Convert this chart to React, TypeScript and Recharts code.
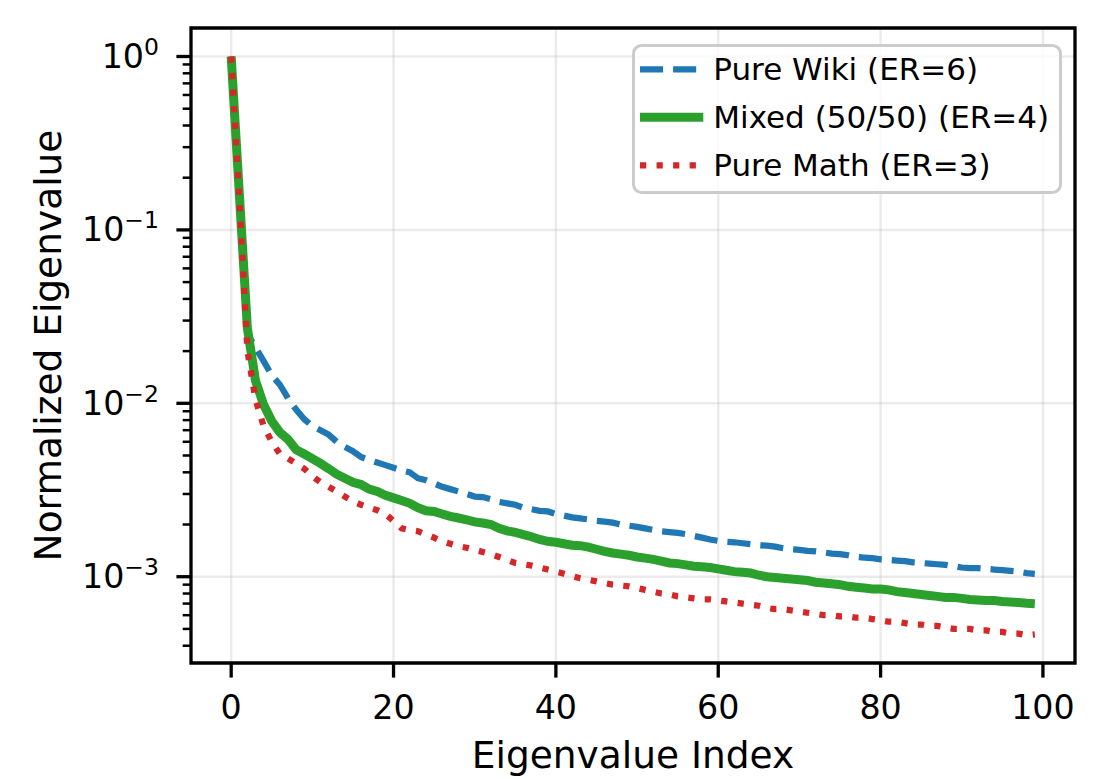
import React from 'react';
import { LineChart, Line, XAxis, YAxis, CartesianGrid, ReferenceArea, Legend } from 'recharts';

const pureWiki = [
  1.0, 0.16, 0.025, 0.021, 0.0175, 0.0145, 0.0128, 0.0107, 0.0092, 0.0081,
  0.0074, 0.007, 0.0066, 0.006, 0.0056, 0.0053, 0.0049, 0.0047, 0.00455, 0.0044,
  0.00425, 0.0041, 0.004, 0.0037, 0.0036, 0.00345, 0.0033, 0.0032, 0.0031, 0.003,
  0.0029, 0.00288, 0.0028, 0.0027, 0.00265, 0.0026, 0.0025, 0.00245, 0.0024, 0.00238,
  0.0023, 0.00225, 0.0022, 0.00217, 0.00214, 0.0021, 0.00208, 0.00205, 0.002, 0.00197,
  0.00194, 0.0019, 0.00186, 0.00183, 0.00181, 0.00179, 0.00176, 0.00172, 0.00168, 0.00164,
  0.00161, 0.00159, 0.00158, 0.00156, 0.00154, 0.00152, 0.00151, 0.00149, 0.00146, 0.00144,
  0.00143, 0.00141, 0.0014, 0.00138, 0.00136, 0.00135, 0.00133, 0.0013, 0.00129, 0.00128,
  0.00126, 0.00125, 0.00124, 0.00123, 0.00121, 0.0012, 0.00119, 0.00118, 0.00117, 0.00115,
  0.00113, 0.00112, 0.00112, 0.00111, 0.0011, 0.00109, 0.00108, 0.00107, 0.00105, 0.00104,
];

const mixed = [
  1.0, 0.163, 0.027, 0.0135, 0.0098, 0.0079, 0.0068, 0.0062, 0.0054, 0.0051,
  0.0048, 0.0045, 0.0042, 0.0039, 0.0037, 0.0035, 0.0034, 0.0032, 0.0031, 0.00295,
  0.00285, 0.00275, 0.00265, 0.0025, 0.0024, 0.00238, 0.0023, 0.00223, 0.00218, 0.00213,
  0.00207, 0.00204, 0.002, 0.0019, 0.00184, 0.0018, 0.00175, 0.0017, 0.00164, 0.0016,
  0.00158, 0.00155, 0.00152, 0.00151, 0.00148, 0.00144, 0.0014, 0.00137, 0.00135, 0.00133,
  0.0013, 0.00128, 0.00126, 0.00123, 0.0012, 0.00119, 0.00117, 0.00115, 0.00114, 0.00113,
  0.00111, 0.00109, 0.00107, 0.00106, 0.00105, 0.00102, 0.001, 0.00099, 0.00098, 0.00097,
  0.00096, 0.00095, 0.00093, 0.00092, 0.00091, 0.0009, 0.00088, 0.00087, 0.00086, 0.00085,
  0.00085, 0.00084, 0.00082, 0.00081, 0.0008, 0.00079, 0.00078, 0.00077, 0.00076, 0.00076,
  0.00075, 0.00074, 0.000735, 0.00073, 0.00073, 0.00072, 0.000715, 0.00071, 0.000703, 0.000698,
];

const pureMath = [
  1.0, 0.15, 0.02, 0.0105, 0.0074, 0.006, 0.0051, 0.0048, 0.0045, 0.0042,
  0.0038, 0.0035, 0.0033, 0.0031, 0.0029, 0.00272, 0.0026, 0.0025, 0.00242, 0.0023,
  0.0021, 0.0019, 0.00186, 0.00183, 0.00175, 0.00168, 0.0016, 0.00155, 0.0015, 0.00147,
  0.00143, 0.00139, 0.00135, 0.0013, 0.00125, 0.0012, 0.00118, 0.00116, 0.00113, 0.0011,
  0.00107, 0.00104, 0.00101, 0.00098, 0.00096, 0.00094, 0.00092, 0.0009, 0.00089, 0.00088,
  0.00086, 0.00084, 0.00082, 0.0008, 0.00079, 0.00077, 0.00076, 0.00075, 0.00074, 0.00074,
  0.00073, 0.00072, 0.00071, 0.0007, 0.00069, 0.00068, 0.00066, 0.00065, 0.00065, 0.00064,
  0.00063, 0.00062, 0.00061, 0.0006, 0.0006, 0.00059, 0.00059, 0.00058, 0.00058, 0.00057,
  0.00056, 0.00055, 0.00055, 0.00054, 0.00053, 0.00053, 0.00052, 0.00052, 0.00051, 0.0005,
  0.0005, 0.0005, 0.00049, 0.00049, 0.00048, 0.00048, 0.00047, 0.00047, 0.00046, 0.000465,
];

const xTicks = [0, 20, 40, 60, 80, 100];
const yMajorTicks = [1, 0.1, 0.01, 0.001];
const yMajorLabels = ['0', '\u22121', '\u22122', '\u22123'];
const yMinorTicks = [
  0.9, 0.8, 0.7, 0.6, 0.5, 0.4, 0.3, 0.2,
  0.09, 0.08, 0.07, 0.06, 0.05, 0.04, 0.03, 0.02,
  0.009, 0.008, 0.007, 0.006, 0.005, 0.004, 0.003, 0.002,
  0.0009, 0.0008, 0.0007, 0.0006, 0.0005, 0.0004,
];
const xDomain = [-4.95, 103.95];
const yDomain = [3.18e-4, 1.46];

const seriesNames = ['Pure Wiki (ER=6)', 'Mixed (50/50) (ER=4)', 'Pure Math (ER=3)'];
const seriesKeys = ['wiki', 'mixed', 'math'];
const seriesColors = ['#1f77b4', '#2ca02c', '#d62728'];
const seriesWidths = [6.25, 9, 6.25];
const seriesDashes = ['23.1 10', undefined, '6.25 10.3'];

const rows = pureWiki.map((v, i) => ({ idx: i, wiki: v, mixed: mixed[i], math: pureMath[i] }));

const FONT = 'DejaVu Sans, sans-serif';

const YTick = (props: any) => {
  const { x, y, payload } = props;
  const v = payload.value;
  const mi = yMajorTicks.findIndex((t) => Math.abs(t - v) / t < 1e-6);
  if (mi < 0) {
    return <line x1={x - 8.3} x2={x} y1={y} y2={y} stroke="#000" strokeWidth={2.5} />;
  }
  return (
    <g>
      <line x1={x - 14.6} x2={x} y1={y} y2={y} stroke="#000" strokeWidth={3.3} />
      <text x={x - 32} y={y + 11.5} textAnchor="end" fontFamily={FONT} fontSize={33.3} fill="#000">
        <tspan>10</tspan>
        <tspan dy={-13} fontSize={23.5}>{yMajorLabels[mi]}</tspan>
      </text>
    </g>
  );
};

const XTick = (props: any) => {
  const { x, y, payload } = props;
  return (
    <g>
      <line x1={x} x2={x} y1={y} y2={y + 14.6} stroke="#000" strokeWidth={3.3} />
      <text x={x} y={y + 56} textAnchor="middle" fontFamily={FONT} fontSize={33.3} fill="#000">
        {payload.value}
      </text>
    </g>
  );
};

const LegendBox = () => (
  <svg width={432} height={152} style={{ display: 'block', overflow: 'visible' }}>
    <rect x={1.5} y={1.5} width={427} height={147} rx={8} ry={8} fill="#fff" fillOpacity={0.8} stroke="#cccccc" strokeWidth={3} />
    {seriesNames.map((name, i) => (
      <g key={name}>
        <line
          x1={8}
          x2={71.3}
          y1={25.3 + 48 * i}
          y2={25.3 + 48 * i}
          stroke={seriesColors[i]}
          strokeWidth={seriesWidths[i]}
          strokeDasharray={seriesDashes[i]}
        />
        <text x={81.3} y={25.3 + 48 * i + 11} fontFamily={FONT} fontSize={31} fill="#000">
          {name}
        </text>
      </g>
    ))}
  </svg>
);

export default function App() {
  return (
    <div style={{ position: 'absolute', left: 0, top: 0, width: 1105, height: 779, background: '#fff' }}>
      <LineChart width={1105} height={779} data={rows} margin={{ top: 28, right: 30, bottom: 0, left: 0 }}>
        <CartesianGrid
          horizontalValues={yMajorTicks}
          verticalValues={xTicks}
          stroke="#b0b0b0"
          strokeOpacity={0.25}
          strokeWidth={2.5}
          strokeDasharray=""
        />
        <XAxis
          type="number"
          dataKey="idx"
          domain={xDomain}
          allowDataOverflow
          ticks={xTicks}
          interval={0}
          tickLine={false}
          axisLine={false}
          tickSize={0}
          tickMargin={0}
          height={116}
          tick={<XTick />}
          label={{
            content: (p: any) => (
              <text
                x={p.viewBox.x + p.viewBox.width / 2}
                y={p.viewBox.y + 105}
                textAnchor="middle"
                fontFamily={FONT}
                fontSize={37.5}
                fill="#000"
              >
                Eigenvalue Index
              </text>
            ),
          }}
        />
        <YAxis
          type="number"
          scale="log"
          domain={yDomain}
          allowDataOverflow
          ticks={[...yMajorTicks, ...yMinorTicks]}
          interval={0}
          tickLine={false}
          axisLine={false}
          tickSize={0}
          tickMargin={0}
          width={191}
          tick={<YTick />}
          label={{
            content: (p: any) => {
              const cx = 61;
              const cy = p.viewBox.y + p.viewBox.height / 2;
              return (
                <text
                  x={cx}
                  y={cy}
                  transform={`rotate(-90, ${cx}, ${cy})`}
                  textAnchor="middle"
                  fontFamily={FONT}
                  fontSize={37.5}
                  fill="#000"
                >
                  Normalized Eigenvalue
                </text>
              );
            },
          }}
        />
        {seriesKeys.map((k, i) => (
          <Line
            key={k}
            type="linear"
            dataKey={k}
            name={seriesNames[i]}
            stroke={seriesColors[i]}
            strokeWidth={seriesWidths[i]}
            strokeDasharray={seriesDashes[i]}
            dot={false}
            activeDot={false}
            isAnimationActive={false}
          />
        ))}
        <ReferenceArea
          x1={xDomain[0]}
          x2={xDomain[1]}
          y1={yDomain[0]}
          y2={yDomain[1]}
          ifOverflow="visible"
          fill="none"
          fillOpacity={0}
          stroke="#000"
          strokeWidth={3.3}
        />
        <Legend
          layout="horizontal"
          verticalAlign="middle"
          align="center"
          content={() => <LegendBox />}
          wrapperStyle={{ position: 'absolute', left: 632, top: 44, width: 432, height: 152 }}
        />
      </LineChart>
    </div>
  );
}
